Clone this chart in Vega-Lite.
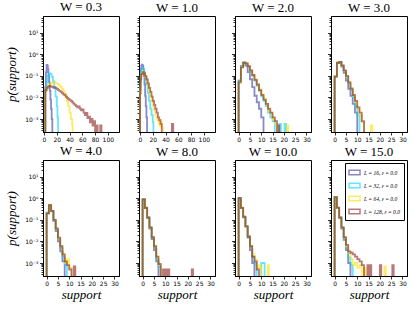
{
"$schema": "https://vega.github.io/schema/vega-lite/v6.json",
"padding": {"left": 5, "top": 0, "right": 2, "bottom": 2},
"background": "white",
"datasets": {"d": [
{"w":0.3,"L":16,"x":2,"p":1e-5},{"w":0.3,"L":16,"x":2,"p":0.03},{"w":0.3,"L":16,"x":3,"p":0.15},{"w":0.3,"L":16,"x":4,"p":0.32},{"w":0.3,"L":16,"x":5,"p":0.3},{"w":0.3,"L":16,"x":6,"p":0.2},{"w":0.3,"L":16,"x":7,"p":0.1},{"w":0.3,"L":16,"x":8,"p":0.05},{"w":0.3,"L":16,"x":9,"p":0.02},{"w":0.3,"L":16,"x":10,"p":0.008},{"w":0.3,"L":16,"x":11,"p":0.003},{"w":0.3,"L":16,"x":12,"p":0.001},{"w":0.3,"L":16,"x":13,"p":1e-5},
{"w":0.3,"L":32,"x":2,"p":1e-5},{"w":0.3,"L":32,"x":2,"p":0.02},{"w":0.3,"L":32,"x":4,"p":0.05},{"w":0.3,"L":32,"x":6,"p":0.1},{"w":0.3,"L":32,"x":8,"p":0.13},{"w":0.3,"L":32,"x":10,"p":0.12},{"w":0.3,"L":32,"x":12,"p":0.09},{"w":0.3,"L":32,"x":14,"p":0.055},{"w":0.3,"L":32,"x":16,"p":0.028},{"w":0.3,"L":32,"x":18,"p":0.011},{"w":0.3,"L":32,"x":20,"p":0.004},{"w":0.3,"L":32,"x":21,"p":0.0012},{"w":0.3,"L":32,"x":22,"p":1e-5},
{"w":0.3,"L":64,"x":2,"p":1e-5},{"w":0.3,"L":64,"x":2,"p":0.018},{"w":0.3,"L":64,"x":4,"p":0.028},{"w":0.3,"L":64,"x":6,"p":0.035},{"w":0.3,"L":64,"x":8,"p":0.04},{"w":0.3,"L":64,"x":10,"p":0.042},{"w":0.3,"L":64,"x":12,"p":0.046},{"w":0.3,"L":64,"x":14,"p":0.05},{"w":0.3,"L":64,"x":16,"p":0.05},{"w":0.3,"L":64,"x":18,"p":0.047},{"w":0.3,"L":64,"x":20,"p":0.044},{"w":0.3,"L":64,"x":22,"p":0.04},{"w":0.3,"L":64,"x":24,"p":0.035},{"w":0.3,"L":64,"x":26,"p":0.03},{"w":0.3,"L":64,"x":28,"p":0.025},{"w":0.3,"L":64,"x":30,"p":0.02},{"w":0.3,"L":64,"x":32,"p":0.015},{"w":0.3,"L":64,"x":34,"p":0.01},{"w":0.3,"L":64,"x":36,"p":0.0065},{"w":0.3,"L":64,"x":38,"p":0.004},{"w":0.3,"L":64,"x":40,"p":0.002},{"w":0.3,"L":64,"x":42,"p":0.001},{"w":0.3,"L":64,"x":44,"p":0.0005},{"w":0.3,"L":64,"x":45,"p":1e-5},
{"w":0.3,"L":128,"x":2,"p":1e-5},{"w":0.3,"L":128,"x":2,"p":0.022},{"w":0.3,"L":128,"x":4,"p":0.028},{"w":0.3,"L":128,"x":6,"p":0.032},{"w":0.3,"L":128,"x":8,"p":0.034},{"w":0.3,"L":128,"x":10,"p":0.033},{"w":0.3,"L":128,"x":12,"p":0.031},{"w":0.3,"L":128,"x":14,"p":0.029},{"w":0.3,"L":128,"x":16,"p":0.03},{"w":0.3,"L":128,"x":18,"p":0.027},{"w":0.3,"L":128,"x":20,"p":0.025},{"w":0.3,"L":128,"x":22,"p":0.022},{"w":0.3,"L":128,"x":24,"p":0.02},{"w":0.3,"L":128,"x":26,"p":0.018},{"w":0.3,"L":128,"x":28,"p":0.016},{"w":0.3,"L":128,"x":30,"p":0.014},{"w":0.3,"L":128,"x":32,"p":0.013},{"w":0.3,"L":128,"x":34,"p":0.011},{"w":0.3,"L":128,"x":36,"p":0.0095},{"w":0.3,"L":128,"x":38,"p":0.0085},{"w":0.3,"L":128,"x":40,"p":0.0075},{"w":0.3,"L":128,"x":42,"p":0.007},{"w":0.3,"L":128,"x":44,"p":0.006},{"w":0.3,"L":128,"x":46,"p":0.0052},{"w":0.3,"L":128,"x":48,"p":0.0045},{"w":0.3,"L":128,"x":50,"p":0.004},{"w":0.3,"L":128,"x":52,"p":0.0035},{"w":0.3,"L":128,"x":54,"p":0.0038},{"w":0.3,"L":128,"x":56,"p":0.003},{"w":0.3,"L":128,"x":58,"p":0.0025},{"w":0.3,"L":128,"x":60,"p":0.0028},{"w":0.3,"L":128,"x":62,"p":0.002},{"w":0.3,"L":128,"x":64,"p":0.0015},{"w":0.3,"L":128,"x":66,"p":0.0019},{"w":0.3,"L":128,"x":68,"p":0.0011},{"w":0.3,"L":128,"x":70,"p":0.0013},{"w":0.3,"L":128,"x":72,"p":0.0007},{"w":0.3,"L":128,"x":74,"p":0.001},{"w":0.3,"L":128,"x":76,"p":0.0005},{"w":0.3,"L":128,"x":78,"p":0.0008},{"w":0.3,"L":128,"x":80,"p":1e-5},{"w":0.3,"L":128,"x":82,"p":0.0005},{"w":0.3,"L":128,"x":84,"p":1e-5},{"w":0.3,"L":128,"x":88,"p":0.0005},{"w":0.3,"L":128,"x":90,"p":1e-5},

{"w":1,"L":16,"x":0,"p":1e-5},{"w":1,"L":16,"x":0,"p":0.05},{"w":1,"L":16,"x":1,"p":0.2},{"w":1,"L":16,"x":2,"p":0.3},{"w":1,"L":16,"x":3,"p":0.33},{"w":1,"L":16,"x":4,"p":0.3},{"w":1,"L":16,"x":5,"p":0.2},{"w":1,"L":16,"x":6,"p":0.1},{"w":1,"L":16,"x":7,"p":0.04},{"w":1,"L":16,"x":8,"p":0.012},{"w":1,"L":16,"x":9,"p":0.004},{"w":1,"L":16,"x":10,"p":0.0012},{"w":1,"L":16,"x":11,"p":1e-5},
{"w":1,"L":32,"x":0,"p":1e-5},{"w":1,"L":32,"x":0,"p":0.03},{"w":1,"L":32,"x":1,"p":0.12},{"w":1,"L":32,"x":2,"p":0.2},{"w":1,"L":32,"x":4,"p":0.22},{"w":1,"L":32,"x":6,"p":0.15},{"w":1,"L":32,"x":8,"p":0.08},{"w":1,"L":32,"x":10,"p":0.04},{"w":1,"L":32,"x":12,"p":0.016},{"w":1,"L":32,"x":14,"p":0.007},{"w":1,"L":32,"x":16,"p":0.003},{"w":1,"L":32,"x":18,"p":0.0015},{"w":1,"L":32,"x":20,"p":0.0007},{"w":1,"L":32,"x":21,"p":1e-5},
{"w":1,"L":64,"x":0,"p":1e-5},{"w":1,"L":64,"x":0,"p":0.02},{"w":1,"L":64,"x":1,"p":0.08},{"w":1,"L":64,"x":2,"p":0.13},{"w":1,"L":64,"x":4,"p":0.16},{"w":1,"L":64,"x":6,"p":0.13},{"w":1,"L":64,"x":8,"p":0.09},{"w":1,"L":64,"x":10,"p":0.06},{"w":1,"L":64,"x":12,"p":0.035},{"w":1,"L":64,"x":14,"p":0.02},{"w":1,"L":64,"x":16,"p":0.012},{"w":1,"L":64,"x":18,"p":0.007},{"w":1,"L":64,"x":20,"p":0.004},{"w":1,"L":64,"x":22,"p":0.0025},{"w":1,"L":64,"x":24,"p":0.0015},{"w":1,"L":64,"x":26,"p":0.001},{"w":1,"L":64,"x":28,"p":0.0008},{"w":1,"L":64,"x":30,"p":0.0005},{"w":1,"L":64,"x":32,"p":0.0008},{"w":1,"L":64,"x":34,"p":0.0004},{"w":1,"L":64,"x":36,"p":1e-5},
{"w":1,"L":128,"x":0,"p":1e-5},{"w":1,"L":128,"x":0,"p":0.015},{"w":1,"L":128,"x":1,"p":0.07},{"w":1,"L":128,"x":2,"p":0.12},{"w":1,"L":128,"x":4,"p":0.15},{"w":1,"L":128,"x":6,"p":0.13},{"w":1,"L":128,"x":8,"p":0.1},{"w":1,"L":128,"x":10,"p":0.07},{"w":1,"L":128,"x":12,"p":0.045},{"w":1,"L":128,"x":14,"p":0.028},{"w":1,"L":128,"x":16,"p":0.018},{"w":1,"L":128,"x":18,"p":0.011},{"w":1,"L":128,"x":20,"p":0.007},{"w":1,"L":128,"x":22,"p":0.0045},{"w":1,"L":128,"x":24,"p":0.003},{"w":1,"L":128,"x":26,"p":0.002},{"w":1,"L":128,"x":28,"p":0.0012},{"w":1,"L":128,"x":30,"p":0.0009},{"w":1,"L":128,"x":32,"p":0.0006},{"w":1,"L":128,"x":34,"p":1e-5},{"w":1,"L":128,"x":50,"p":0.0006},{"w":1,"L":128,"x":52,"p":1e-5},

{"w":2,"L":16,"x":0,"p":1e-5},{"w":2,"L":16,"x":0,"p":0.06},{"w":2,"L":16,"x":1,"p":0.28},{"w":2,"L":16,"x":2,"p":0.42},{"w":2,"L":16,"x":3,"p":0.3},{"w":2,"L":16,"x":4,"p":0.15},{"w":2,"L":16,"x":5,"p":0.07},{"w":2,"L":16,"x":6,"p":0.03},{"w":2,"L":16,"x":7,"p":0.012},{"w":2,"L":16,"x":8,"p":0.006},{"w":2,"L":16,"x":9,"p":0.003},{"w":2,"L":16,"x":10,"p":0.0012},{"w":2,"L":16,"x":11,"p":1e-5},
{"w":2,"L":32,"x":0,"p":1e-5},{"w":2,"L":32,"x":0,"p":0.06},{"w":2,"L":32,"x":1,"p":0.28},{"w":2,"L":32,"x":2,"p":0.42},{"w":2,"L":32,"x":3,"p":0.37},{"w":2,"L":32,"x":4,"p":0.26},{"w":2,"L":32,"x":5,"p":0.16},{"w":2,"L":32,"x":6,"p":0.1},{"w":2,"L":32,"x":7,"p":0.06},{"w":2,"L":32,"x":8,"p":0.035},{"w":2,"L":32,"x":9,"p":0.02},{"w":2,"L":32,"x":10,"p":0.011},{"w":2,"L":32,"x":11,"p":0.007},{"w":2,"L":32,"x":12,"p":0.004},{"w":2,"L":32,"x":13,"p":0.002},{"w":2,"L":32,"x":14,"p":0.0012},{"w":2,"L":32,"x":15,"p":0.0008},{"w":2,"L":32,"x":16,"p":1e-5},{"w":2,"L":32,"x":18,"p":0.0006},{"w":2,"L":32,"x":18.7,"p":1e-5},{"w":2,"L":32,"x":20.3,"p":0.0006},{"w":2,"L":32,"x":21,"p":1e-5},
{"w":2,"L":64,"x":0,"p":1e-5},{"w":2,"L":64,"x":0,"p":0.05},{"w":2,"L":64,"x":1,"p":0.26},{"w":2,"L":64,"x":2,"p":0.4},{"w":2,"L":64,"x":3,"p":0.38},{"w":2,"L":64,"x":4,"p":0.28},{"w":2,"L":64,"x":5,"p":0.18},{"w":2,"L":64,"x":6,"p":0.11},{"w":2,"L":64,"x":7,"p":0.07},{"w":2,"L":64,"x":8,"p":0.04},{"w":2,"L":64,"x":9,"p":0.024},{"w":2,"L":64,"x":10,"p":0.014},{"w":2,"L":64,"x":11,"p":0.009},{"w":2,"L":64,"x":12,"p":0.005},{"w":2,"L":64,"x":13,"p":0.0025},{"w":2,"L":64,"x":14,"p":0.0018},{"w":2,"L":64,"x":15,"p":0.001},{"w":2,"L":64,"x":16,"p":0.0006},{"w":2,"L":64,"x":17,"p":1e-5},{"w":2,"L":64,"x":21.3,"p":0.0005},{"w":2,"L":64,"x":22,"p":1e-5},
{"w":2,"L":128,"x":0,"p":1e-5},{"w":2,"L":128,"x":0,"p":0.05},{"w":2,"L":128,"x":1,"p":0.25},{"w":2,"L":128,"x":2,"p":0.4},{"w":2,"L":128,"x":3,"p":0.38},{"w":2,"L":128,"x":4,"p":0.28},{"w":2,"L":128,"x":5,"p":0.18},{"w":2,"L":128,"x":6,"p":0.11},{"w":2,"L":128,"x":7,"p":0.065},{"w":2,"L":128,"x":8,"p":0.04},{"w":2,"L":128,"x":9,"p":0.022},{"w":2,"L":128,"x":10,"p":0.013},{"w":2,"L":128,"x":11,"p":0.008},{"w":2,"L":128,"x":12,"p":0.005},{"w":2,"L":128,"x":13,"p":0.003},{"w":2,"L":128,"x":14,"p":0.002},{"w":2,"L":128,"x":15,"p":0.0012},{"w":2,"L":128,"x":16,"p":0.0008},{"w":2,"L":128,"x":17,"p":1e-5},{"w":2,"L":128,"x":17.3,"p":0.0005},{"w":2,"L":128,"x":18,"p":1e-5},

{"w":3,"L":16,"x":0,"p":1e-5},{"w":3,"L":16,"x":0,"p":0.1},{"w":3,"L":16,"x":1,"p":0.4},{"w":3,"L":16,"x":2,"p":0.42},{"w":3,"L":16,"x":3,"p":0.27},{"w":3,"L":16,"x":4,"p":0.14},{"w":3,"L":16,"x":5,"p":0.06},{"w":3,"L":16,"x":6,"p":0.025},{"w":3,"L":16,"x":7,"p":0.012},{"w":3,"L":16,"x":8,"p":0.005},{"w":3,"L":16,"x":9,"p":0.002},{"w":3,"L":16,"x":10,"p":1e-5},
{"w":3,"L":32,"x":0,"p":1e-5},{"w":3,"L":32,"x":0,"p":0.1},{"w":3,"L":32,"x":1,"p":0.42},{"w":3,"L":32,"x":2,"p":0.45},{"w":3,"L":32,"x":3,"p":0.3},{"w":3,"L":32,"x":4,"p":0.17},{"w":3,"L":32,"x":5,"p":0.09},{"w":3,"L":32,"x":6,"p":0.045},{"w":3,"L":32,"x":7,"p":0.022},{"w":3,"L":32,"x":8,"p":0.01},{"w":3,"L":32,"x":9,"p":0.004},{"w":3,"L":32,"x":10,"p":0.0015},{"w":3,"L":32,"x":11,"p":1e-5},
{"w":3,"L":64,"x":0,"p":1e-5},{"w":3,"L":64,"x":0,"p":0.1},{"w":3,"L":64,"x":1,"p":0.42},{"w":3,"L":64,"x":2,"p":0.45},{"w":3,"L":64,"x":3,"p":0.3},{"w":3,"L":64,"x":4,"p":0.17},{"w":3,"L":64,"x":5,"p":0.09},{"w":3,"L":64,"x":6,"p":0.05},{"w":3,"L":64,"x":7,"p":0.025},{"w":3,"L":64,"x":8,"p":0.012},{"w":3,"L":64,"x":9,"p":0.006},{"w":3,"L":64,"x":10,"p":0.003},{"w":3,"L":64,"x":11,"p":0.0015},{"w":3,"L":64,"x":12,"p":0.0007},{"w":3,"L":64,"x":13,"p":1e-5},{"w":3,"L":64,"x":16,"p":0.0005},{"w":3,"L":64,"x":16.7,"p":1e-5},
{"w":3,"L":128,"x":0,"p":1e-5},{"w":3,"L":128,"x":0,"p":0.09},{"w":3,"L":128,"x":1,"p":0.4},{"w":3,"L":128,"x":2,"p":0.45},{"w":3,"L":128,"x":3,"p":0.31},{"w":3,"L":128,"x":4,"p":0.18},{"w":3,"L":128,"x":5,"p":0.1},{"w":3,"L":128,"x":6,"p":0.05},{"w":3,"L":128,"x":7,"p":0.026},{"w":3,"L":128,"x":8,"p":0.013},{"w":3,"L":128,"x":9,"p":0.007},{"w":3,"L":128,"x":10,"p":0.0035},{"w":3,"L":128,"x":11,"p":0.002},{"w":3,"L":128,"x":12,"p":0.0008},{"w":3,"L":128,"x":13,"p":1e-5},

{"w":4,"L":16,"x":0,"p":1e-5},{"w":4,"L":16,"x":0,"p":0.2},{"w":4,"L":16,"x":1,"p":0.48},{"w":4,"L":16,"x":2,"p":0.25},{"w":4,"L":16,"x":3,"p":0.09},{"w":4,"L":16,"x":4,"p":0.03},{"w":4,"L":16,"x":5,"p":0.01},{"w":4,"L":16,"x":6,"p":0.0035},{"w":4,"L":16,"x":7,"p":0.0012},{"w":4,"L":16,"x":8,"p":1e-5},
{"w":4,"L":32,"x":0,"p":1e-5},{"w":4,"L":32,"x":0,"p":0.22},{"w":4,"L":32,"x":1,"p":0.5},{"w":4,"L":32,"x":2,"p":0.26},{"w":4,"L":32,"x":3,"p":0.1},{"w":4,"L":32,"x":4,"p":0.035},{"w":4,"L":32,"x":5,"p":0.013},{"w":4,"L":32,"x":6,"p":0.005},{"w":4,"L":32,"x":7,"p":0.002},{"w":4,"L":32,"x":8,"p":0.0008},{"w":4,"L":32,"x":9,"p":1e-5},
{"w":4,"L":64,"x":0,"p":1e-5},{"w":4,"L":64,"x":0,"p":0.2},{"w":4,"L":64,"x":1,"p":0.5},{"w":4,"L":64,"x":2,"p":0.26},{"w":4,"L":64,"x":3,"p":0.1},{"w":4,"L":64,"x":4,"p":0.036},{"w":4,"L":64,"x":5,"p":0.014},{"w":4,"L":64,"x":6,"p":0.006},{"w":4,"L":64,"x":7,"p":0.0025},{"w":4,"L":64,"x":8,"p":0.001},{"w":4,"L":64,"x":9,"p":0.0015},{"w":4,"L":64,"x":10,"p":0.0006},{"w":4,"L":64,"x":11,"p":1e-5},
{"w":4,"L":128,"x":0,"p":1e-5},{"w":4,"L":128,"x":0,"p":0.2},{"w":4,"L":128,"x":1,"p":0.48},{"w":4,"L":128,"x":2,"p":0.26},{"w":4,"L":128,"x":3,"p":0.1},{"w":4,"L":128,"x":4,"p":0.04},{"w":4,"L":128,"x":5,"p":0.015},{"w":4,"L":128,"x":6,"p":0.006},{"w":4,"L":128,"x":7,"p":0.0025},{"w":4,"L":128,"x":8,"p":0.0012},{"w":4,"L":128,"x":9,"p":0.0008},{"w":4,"L":128,"x":10,"p":0.0005},{"w":4,"L":128,"x":11,"p":1e-5},{"w":4,"L":128,"x":12,"p":0.0007},{"w":4,"L":128,"x":12.7,"p":1e-5},

{"w":8,"L":16,"x":0,"p":1e-5},{"w":8,"L":16,"x":0,"p":0.9},{"w":8,"L":16,"x":1,"p":0.35},{"w":8,"L":16,"x":2,"p":0.12},{"w":8,"L":16,"x":3,"p":0.04},{"w":8,"L":16,"x":4,"p":0.013},{"w":8,"L":16,"x":5,"p":0.004},{"w":8,"L":16,"x":6,"p":0.0012},{"w":8,"L":16,"x":7,"p":1e-5},
{"w":8,"L":32,"x":0,"p":1e-5},{"w":8,"L":32,"x":0,"p":0.95},{"w":8,"L":32,"x":1,"p":0.38},{"w":8,"L":32,"x":2,"p":0.13},{"w":8,"L":32,"x":3,"p":0.045},{"w":8,"L":32,"x":4,"p":0.015},{"w":8,"L":32,"x":5,"p":0.005},{"w":8,"L":32,"x":6,"p":0.0015},{"w":8,"L":32,"x":7,"p":0.0007},{"w":8,"L":32,"x":8,"p":1e-5},
{"w":8,"L":64,"x":0,"p":1e-5},{"w":8,"L":64,"x":0,"p":0.92},{"w":8,"L":64,"x":1,"p":0.37},{"w":8,"L":64,"x":2,"p":0.13},{"w":8,"L":64,"x":3,"p":0.045},{"w":8,"L":64,"x":4,"p":0.016},{"w":8,"L":64,"x":5,"p":0.006},{"w":8,"L":64,"x":6,"p":0.002},{"w":8,"L":64,"x":7,"p":0.0008},{"w":8,"L":64,"x":8,"p":1e-5},
{"w":8,"L":128,"x":0,"p":1e-5},{"w":8,"L":128,"x":0,"p":0.9},{"w":8,"L":128,"x":1,"p":0.36},{"w":8,"L":128,"x":2,"p":0.13},{"w":8,"L":128,"x":3,"p":0.045},{"w":8,"L":128,"x":4,"p":0.016},{"w":8,"L":128,"x":5,"p":0.006},{"w":8,"L":128,"x":6,"p":0.002},{"w":8,"L":128,"x":7,"p":0.0009},{"w":8,"L":128,"x":8,"p":1e-5},{"w":8,"L":128,"x":9,"p":0.0005},{"w":8,"L":128,"x":9.6,"p":1e-5},{"w":8,"L":128,"x":10.1,"p":0.0005},{"w":8,"L":128,"x":10.7,"p":1e-5},{"w":8,"L":128,"x":11.2,"p":0.0005},{"w":8,"L":128,"x":11.8,"p":1e-5},{"w":8,"L":128,"x":21.7,"p":0.0005},{"w":8,"L":128,"x":22.3,"p":1e-5},

{"w":10,"L":16,"x":0,"p":1e-5},{"w":10,"L":16,"x":0,"p":1.0},{"w":10,"L":16,"x":1,"p":0.35},{"w":10,"L":16,"x":2,"p":0.13},{"w":10,"L":16,"x":3,"p":0.05},{"w":10,"L":16,"x":4,"p":0.015},{"w":10,"L":16,"x":5,"p":0.004},{"w":10,"L":16,"x":6,"p":0.001},{"w":10,"L":16,"x":7,"p":1e-5},
{"w":10,"L":32,"x":0,"p":1e-5},{"w":10,"L":32,"x":0,"p":1.05},{"w":10,"L":32,"x":1,"p":0.37},{"w":10,"L":32,"x":2,"p":0.14},{"w":10,"L":32,"x":3,"p":0.05},{"w":10,"L":32,"x":4,"p":0.017},{"w":10,"L":32,"x":5,"p":0.006},{"w":10,"L":32,"x":6,"p":0.002},{"w":10,"L":32,"x":7,"p":0.0009},{"w":10,"L":32,"x":8,"p":1e-5},{"w":10,"L":32,"x":10,"p":0.001},{"w":10,"L":32,"x":11.5,"p":1e-5},
{"w":10,"L":64,"x":0,"p":1e-5},{"w":10,"L":64,"x":0,"p":1.0},{"w":10,"L":64,"x":1,"p":0.36},{"w":10,"L":64,"x":2,"p":0.14},{"w":10,"L":64,"x":3,"p":0.05},{"w":10,"L":64,"x":4,"p":0.018},{"w":10,"L":64,"x":5,"p":0.006},{"w":10,"L":64,"x":6,"p":0.0025},{"w":10,"L":64,"x":7,"p":0.0015},{"w":10,"L":64,"x":8,"p":0.0006},{"w":10,"L":64,"x":9,"p":0.0008},{"w":10,"L":64,"x":10,"p":1e-5},{"w":10,"L":64,"x":12.8,"p":0.0008},{"w":10,"L":64,"x":13.4,"p":1e-5},
{"w":10,"L":128,"x":0,"p":1e-5},{"w":10,"L":128,"x":0,"p":1.02},{"w":10,"L":128,"x":1,"p":0.36},{"w":10,"L":128,"x":2,"p":0.14},{"w":10,"L":128,"x":3,"p":0.05},{"w":10,"L":128,"x":4,"p":0.017},{"w":10,"L":128,"x":5,"p":0.006},{"w":10,"L":128,"x":6,"p":0.002},{"w":10,"L":128,"x":7,"p":0.0012},{"w":10,"L":128,"x":8,"p":0.0005},{"w":10,"L":128,"x":9,"p":1e-5},

{"w":15,"L":16,"x":0,"p":1e-5},{"w":15,"L":16,"x":0,"p":1.1},{"w":15,"L":16,"x":1,"p":0.35},{"w":15,"L":16,"x":2,"p":0.12},{"w":15,"L":16,"x":3,"p":0.04},{"w":15,"L":16,"x":4,"p":0.012},{"w":15,"L":16,"x":5,"p":0.004},{"w":15,"L":16,"x":6,"p":0.001},{"w":15,"L":16,"x":7,"p":1e-5},
{"w":15,"L":32,"x":0,"p":1e-5},{"w":15,"L":32,"x":0,"p":1.15},{"w":15,"L":32,"x":1,"p":0.37},{"w":15,"L":32,"x":2,"p":0.13},{"w":15,"L":32,"x":3,"p":0.045},{"w":15,"L":32,"x":4,"p":0.014},{"w":15,"L":32,"x":5,"p":0.005},{"w":15,"L":32,"x":6,"p":0.0018},{"w":15,"L":32,"x":7,"p":0.0008},{"w":15,"L":32,"x":8,"p":1e-5},
{"w":15,"L":64,"x":0,"p":1e-5},{"w":15,"L":64,"x":0,"p":1.1},{"w":15,"L":64,"x":1,"p":0.36},{"w":15,"L":64,"x":2,"p":0.13},{"w":15,"L":64,"x":3,"p":0.045},{"w":15,"L":64,"x":4,"p":0.015},{"w":15,"L":64,"x":5,"p":0.006},{"w":15,"L":64,"x":6,"p":0.003},{"w":15,"L":64,"x":7,"p":0.0015},{"w":15,"L":64,"x":8,"p":0.0008},{"w":15,"L":64,"x":9,"p":0.001},{"w":15,"L":64,"x":10,"p":0.0006},{"w":15,"L":64,"x":11,"p":0.0008},{"w":15,"L":64,"x":12,"p":1e-5},{"w":15,"L":64,"x":13,"p":0.0006},{"w":15,"L":64,"x":13.7,"p":1e-5},{"w":15,"L":64,"x":22,"p":0.0007},{"w":15,"L":64,"x":22.6,"p":1e-5},
{"w":15,"L":128,"x":0,"p":1e-5},{"w":15,"L":128,"x":0,"p":1.15},{"w":15,"L":128,"x":1,"p":0.37},{"w":15,"L":128,"x":2,"p":0.13},{"w":15,"L":128,"x":3,"p":0.045},{"w":15,"L":128,"x":4,"p":0.016},{"w":15,"L":128,"x":5,"p":0.007},{"w":15,"L":128,"x":6,"p":0.0035},{"w":15,"L":128,"x":7,"p":0.003},{"w":15,"L":128,"x":8,"p":0.0025},{"w":15,"L":128,"x":9,"p":0.002},{"w":15,"L":128,"x":10,"p":0.0015},{"w":15,"L":128,"x":11,"p":0.0012},{"w":15,"L":128,"x":12,"p":0.0008},{"w":15,"L":128,"x":13,"p":1e-5},{"w":15,"L":128,"x":14.5,"p":0.0008},{"w":15,"L":128,"x":15.1,"p":1e-5},{"w":15,"L":128,"x":15.6,"p":0.0008},{"w":15,"L":128,"x":16.2,"p":1e-5},{"w":15,"L":128,"x":20,"p":0.0008},{"w":15,"L":128,"x":20.6,"p":1e-5},{"w":15,"L":128,"x":25.5,"p":0.0008},{"w":15,"L":128,"x":26.1,"p":1e-5}
]},
"concat": [
{"width": 76, "height": 116, "title": "W = 0.3", "data": {"name": "d"}, "transform": [{"filter": {"field": "w", "equal": 0.3}}],
 "mark": {"type": "line", "interpolate": "step-after", "clip": true, "strokeWidth": 1.8, "opacity": 0.6},
 "encoding": {
  "x": {"field": "x", "type": "quantitative", "scale": {"domain": [-1.6, 117.5], "nice": false, "zero": false}, "axis": {"title": null, "values": [0,20,40,60,80,100]}},
  "y": {"field": "p", "type": "quantitative", "scale": {"type": "log", "domain": [0.00025, 60], "nice": false}, "axis": {"title": "p(support)", "titlePadding": 6, "values": [0.0003,0.0004,0.0005,0.0006,0.0007,0.0008,0.0009,0.001,0.002,0.003,0.004,0.005,0.006,0.007,0.008,0.009,0.01,0.02,0.03,0.04,0.05,0.06,0.07,0.08,0.09,0.1,0.2,0.3,0.4,0.5,0.6,0.7,0.8,0.9,1,2,3,4,5,6,7,8,9,10,20,30,40,50], "labelExpr": "datum.value==10?'10¹':datum.value==1?'10⁰':datum.value==0.1?'10⁻¹':datum.value==0.01?'10⁻²':datum.value==0.001?'10⁻³':''", "tickSize": {"condition": {"test": "datum.value==10||datum.value==1||datum.value==0.1||datum.value==0.01||datum.value==0.001", "value": 3.5}, "value": 2}}},
  "color": {"field": "L", "type": "nominal", "scale": {"domain": [16,32,64,128], "range": ["#3a3aa5","#00d4ff","#ffe000","#8b2020"]}, "legend": null}
 }},
{"width": 76, "height": 116, "title": "W = 1.0", "data": {"name": "d"}, "transform": [{"filter": {"field": "w", "equal": 1}}],
 "mark": {"type": "line", "interpolate": "step-after", "clip": true, "strokeWidth": 1.8, "opacity": 0.6},
 "encoding": {
  "x": {"field": "x", "type": "quantitative", "scale": {"domain": [-1.6, 117.5], "nice": false, "zero": false}, "axis": {"title": null, "values": [0,20,40,60,80,100]}},
  "y": {"field": "p", "type": "quantitative", "scale": {"type": "log", "domain": [0.00025, 60], "nice": false}, "axis": {"title": null, "labels": false, "values": [0.0003,0.0004,0.0005,0.0006,0.0007,0.0008,0.0009,0.001,0.002,0.003,0.004,0.005,0.006,0.007,0.008,0.009,0.01,0.02,0.03,0.04,0.05,0.06,0.07,0.08,0.09,0.1,0.2,0.3,0.4,0.5,0.6,0.7,0.8,0.9,1,2,3,4,5,6,7,8,9,10,20,30,40,50], "tickSize": {"condition": {"test": "datum.value==10||datum.value==1||datum.value==0.1||datum.value==0.01||datum.value==0.001", "value": 3.5}, "value": 2}}},
  "color": {"field": "L", "type": "nominal", "scale": {"domain": [16,32,64,128], "range": ["#3a3aa5","#00d4ff","#ffe000","#8b2020"]}, "legend": null}
 }},
{"width": 76, "height": 116, "title": "W = 2.0", "data": {"name": "d"}, "transform": [{"filter": {"field": "w", "equal": 2}}],
 "mark": {"type": "line", "interpolate": "step-after", "clip": true, "strokeWidth": 1.8, "opacity": 0.6},
 "encoding": {
  "x": {"field": "x", "type": "quantitative", "scale": {"domain": [-1.6, 32], "nice": false, "zero": false}, "axis": {"title": null, "values": [0,5,10,15,20,25,30]}},
  "y": {"field": "p", "type": "quantitative", "scale": {"type": "log", "domain": [0.00025, 60], "nice": false}, "axis": {"title": null, "labels": false, "values": [0.0003,0.0004,0.0005,0.0006,0.0007,0.0008,0.0009,0.001,0.002,0.003,0.004,0.005,0.006,0.007,0.008,0.009,0.01,0.02,0.03,0.04,0.05,0.06,0.07,0.08,0.09,0.1,0.2,0.3,0.4,0.5,0.6,0.7,0.8,0.9,1,2,3,4,5,6,7,8,9,10,20,30,40,50], "tickSize": {"condition": {"test": "datum.value==10||datum.value==1||datum.value==0.1||datum.value==0.01||datum.value==0.001", "value": 3.5}, "value": 2}}},
  "color": {"field": "L", "type": "nominal", "scale": {"domain": [16,32,64,128], "range": ["#3a3aa5","#00d4ff","#ffe000","#8b2020"]}, "legend": null}
 }},
{"width": 76, "height": 116, "title": "W = 3.0", "data": {"name": "d"}, "transform": [{"filter": {"field": "w", "equal": 3}}],
 "mark": {"type": "line", "interpolate": "step-after", "clip": true, "strokeWidth": 1.8, "opacity": 0.6},
 "encoding": {
  "x": {"field": "x", "type": "quantitative", "scale": {"domain": [-1.6, 32], "nice": false, "zero": false}, "axis": {"title": null, "values": [0,5,10,15,20,25,30]}},
  "y": {"field": "p", "type": "quantitative", "scale": {"type": "log", "domain": [0.00025, 60], "nice": false}, "axis": {"title": null, "labels": false, "values": [0.0003,0.0004,0.0005,0.0006,0.0007,0.0008,0.0009,0.001,0.002,0.003,0.004,0.005,0.006,0.007,0.008,0.009,0.01,0.02,0.03,0.04,0.05,0.06,0.07,0.08,0.09,0.1,0.2,0.3,0.4,0.5,0.6,0.7,0.8,0.9,1,2,3,4,5,6,7,8,9,10,20,30,40,50], "tickSize": {"condition": {"test": "datum.value==10||datum.value==1||datum.value==0.1||datum.value==0.01||datum.value==0.001", "value": 3.5}, "value": 2}}},
  "color": {"field": "L", "type": "nominal", "scale": {"domain": [16,32,64,128], "range": ["#3a3aa5","#00d4ff","#ffe000","#8b2020"]}, "legend": null}
 }},
{"width": 76, "height": 116, "title": "W = 4.0", "data": {"name": "d"}, "transform": [{"filter": {"field": "w", "equal": 4}}],
 "mark": {"type": "line", "interpolate": "step-after", "clip": true, "strokeWidth": 1.8, "opacity": 0.6},
 "encoding": {
  "x": {"field": "x", "type": "quantitative", "scale": {"domain": [-1.6, 32], "nice": false, "zero": false}, "axis": {"title": "support", "values": [0,5,10,15,20,25,30]}},
  "y": {"field": "p", "type": "quantitative", "scale": {"type": "log", "domain": [0.00025, 60], "nice": false}, "axis": {"title": "p(support)", "titlePadding": 6, "values": [0.0003,0.0004,0.0005,0.0006,0.0007,0.0008,0.0009,0.001,0.002,0.003,0.004,0.005,0.006,0.007,0.008,0.009,0.01,0.02,0.03,0.04,0.05,0.06,0.07,0.08,0.09,0.1,0.2,0.3,0.4,0.5,0.6,0.7,0.8,0.9,1,2,3,4,5,6,7,8,9,10,20,30,40,50], "labelExpr": "datum.value==10?'10¹':datum.value==1?'10⁰':datum.value==0.1?'10⁻¹':datum.value==0.01?'10⁻²':datum.value==0.001?'10⁻³':''", "tickSize": {"condition": {"test": "datum.value==10||datum.value==1||datum.value==0.1||datum.value==0.01||datum.value==0.001", "value": 3.5}, "value": 2}}},
  "color": {"field": "L", "type": "nominal", "scale": {"domain": [16,32,64,128], "range": ["#3a3aa5","#00d4ff","#ffe000","#8b2020"]}, "legend": null}
 }},
{"width": 76, "height": 116, "title": "W = 8.0", "data": {"name": "d"}, "transform": [{"filter": {"field": "w", "equal": 8}}],
 "mark": {"type": "line", "interpolate": "step-after", "clip": true, "strokeWidth": 1.8, "opacity": 0.6},
 "encoding": {
  "x": {"field": "x", "type": "quantitative", "scale": {"domain": [-1.6, 32], "nice": false, "zero": false}, "axis": {"title": "support", "values": [0,5,10,15,20,25,30]}},
  "y": {"field": "p", "type": "quantitative", "scale": {"type": "log", "domain": [0.00025, 60], "nice": false}, "axis": {"title": null, "labels": false, "values": [0.0003,0.0004,0.0005,0.0006,0.0007,0.0008,0.0009,0.001,0.002,0.003,0.004,0.005,0.006,0.007,0.008,0.009,0.01,0.02,0.03,0.04,0.05,0.06,0.07,0.08,0.09,0.1,0.2,0.3,0.4,0.5,0.6,0.7,0.8,0.9,1,2,3,4,5,6,7,8,9,10,20,30,40,50], "tickSize": {"condition": {"test": "datum.value==10||datum.value==1||datum.value==0.1||datum.value==0.01||datum.value==0.001", "value": 3.5}, "value": 2}}},
  "color": {"field": "L", "type": "nominal", "scale": {"domain": [16,32,64,128], "range": ["#3a3aa5","#00d4ff","#ffe000","#8b2020"]}, "legend": null}
 }},
{"width": 76, "height": 116, "title": "W = 10.0", "data": {"name": "d"}, "transform": [{"filter": {"field": "w", "equal": 10}}],
 "mark": {"type": "line", "interpolate": "step-after", "clip": true, "strokeWidth": 1.8, "opacity": 0.6},
 "encoding": {
  "x": {"field": "x", "type": "quantitative", "scale": {"domain": [-1.6, 32], "nice": false, "zero": false}, "axis": {"title": "support", "values": [0,5,10,15,20,25,30]}},
  "y": {"field": "p", "type": "quantitative", "scale": {"type": "log", "domain": [0.00025, 60], "nice": false}, "axis": {"title": null, "labels": false, "values": [0.0003,0.0004,0.0005,0.0006,0.0007,0.0008,0.0009,0.001,0.002,0.003,0.004,0.005,0.006,0.007,0.008,0.009,0.01,0.02,0.03,0.04,0.05,0.06,0.07,0.08,0.09,0.1,0.2,0.3,0.4,0.5,0.6,0.7,0.8,0.9,1,2,3,4,5,6,7,8,9,10,20,30,40,50], "tickSize": {"condition": {"test": "datum.value==10||datum.value==1||datum.value==0.1||datum.value==0.01||datum.value==0.001", "value": 3.5}, "value": 2}}},
  "color": {"field": "L", "type": "nominal", "scale": {"domain": [16,32,64,128], "range": ["#3a3aa5","#00d4ff","#ffe000","#8b2020"]}, "legend": null}
 }},
{"width": 76, "height": 116, "title": "W = 15.0", "data": {"name": "d"}, "transform": [{"filter": {"field": "w", "equal": 15}}],
 "mark": {"type": "line", "interpolate": "step-after", "clip": true, "strokeWidth": 1.8, "opacity": 0.6},
 "encoding": {
  "x": {"field": "x", "type": "quantitative", "scale": {"domain": [-1.6, 32], "nice": false, "zero": false}, "axis": {"title": "support", "values": [0,5,10,15,20,25,30]}},
  "y": {"field": "p", "type": "quantitative", "scale": {"type": "log", "domain": [0.00025, 60], "nice": false}, "axis": {"title": null, "labels": false, "values": [0.0003,0.0004,0.0005,0.0006,0.0007,0.0008,0.0009,0.001,0.002,0.003,0.004,0.005,0.006,0.007,0.008,0.009,0.01,0.02,0.03,0.04,0.05,0.06,0.07,0.08,0.09,0.1,0.2,0.3,0.4,0.5,0.6,0.7,0.8,0.9,1,2,3,4,5,6,7,8,9,10,20,30,40,50], "tickSize": {"condition": {"test": "datum.value==10||datum.value==1||datum.value==0.1||datum.value==0.01||datum.value==0.001", "value": 3.5}, "value": 2}}},
  "color": {"field": "L", "type": "nominal", "scale": {"domain": [16,32,64,128], "range": ["#3a3aa5","#00d4ff","#ffe000","#8b2020"]},
   "legend": {"orient": "top-right", "offset": 3, "title": null, "padding": 3, "strokeColor": "black", "fillColor": "white", "labelFont": "Liberation Serif", "labelFontSize": 5.5, "labelFontStyle": "italic", "labelColor": "black", "labelExpr": "'L = ' + datum.label + ', ε = 0.0'", "symbolType": "M-1,-0.4H1V0.4H-1Z", "symbolSize": 121, "symbolStrokeWidth": 1.5, "symbolOpacity": 0.6, "symbolFillColor": "transparent", "rowPadding": 1, "labelOffset": 3}}
 }}
],
"columns": 4,
"bounds": "flush",
"spacing": {"row": 28, "column": 20},
"resolve": {"legend": {"color": "independent"}},
"config": {
 "view": {"stroke": "black", "strokeWidth": 1},
 "axis": {"grid": false, "domainColor": "black", "tickColor": "black", "tickWidth": 0.8, "labelFont": "DejaVu Sans", "labelFontSize": 6, "labelColor": "black", "labelPadding": 1.5, "labelOverlap": false, "labelBound": false, "labelFlush": false, "titleFont": "Liberation Serif", "titleFontStyle": "italic", "titleFontWeight": "normal", "titleFontSize": 13, "titleColor": "black"},
 "axisX": {"tickSize": 3, "titlePadding": 2},
 "title": {"font": "Liberation Serif", "fontSize": 13, "fontWeight": "normal", "offset": 1, "color": "black"},
 "style": {"group-title": {"font": "Liberation Serif", "fontSize": 13, "fontWeight": "normal"}}
}
}
